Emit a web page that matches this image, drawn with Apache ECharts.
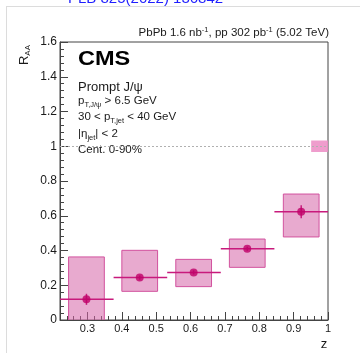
<!DOCTYPE html>
<html>
<head>
<meta charset="utf-8">
<script src="https://cdn.jsdelivr.net/npm/echarts@6/dist/echarts.min.js"></script>
<style>
  html, body { margin: 0; padding: 0; background: #fff; }
  #chart { width: 360px; height: 353px; }
</style>
</head>
<body>
<div id="chart"></div>
<script>
// Nuclear modification factor of prompt J/psi in jets vs. jet fragmentation z
const binEdges = [0.22, 0.376, 0.532, 0.688, 0.844, 1.0];
const zCenter  = [0.297, 0.452, 0.609, 0.765, 0.922];
const rAA      = [0.119, 0.244, 0.274, 0.410, 0.623];
const statErr  = [0.032, 0.012, 0.012, 0.012, 0.038];
const sysLow   = [-0.125, 0.165, 0.192, 0.303, 0.478];
const sysHigh  = [0.363, 0.401, 0.349, 0.466, 0.725];
const globalUnc = 0.033;           // normalisation uncertainty drawn at R_AA = 1
const xTickValues = [0.3, 0.4, 0.5, 0.6, 0.7, 0.8, 0.9, 1.0];

const SYS_HALF_WIDTH = 0.052;
const GLOBAL_BOX_WIDTH = 0.049;
const FONT = '"Liberation Sans", Arial, Helvetica, sans-serif';
const INK = '#1a1a1a';

const xMinorTicks = [];
for (let i = 12; i <= 50; i++) xMinorTicks.push(+(i * 0.02).toFixed(2));

const chart = echarts.init(document.getElementById('chart'), null, { renderer: 'canvas' });

const pointData = zCenter.map((z, i) => [z, rAA[i]]);
const sysData = zCenter.map((z, i) => [z, sysLow[i], sysHigh[i]]);
const errData = zCenter.map((z, i) => [z, rAA[i], statErr[i], binEdges[i], binEdges[i + 1]]);

const sub = { fontSize: 7.5, verticalAlign: 'bottom', lineHeight: 8, fontFamily: FONT, fill: INK };

chart.setOption({
  animation: false,
  backgroundColor: '#fff',
  grid: {
    left: 60, right: 32, top: 42, bottom: 33,
    show: true, borderColor: '#444', borderWidth: 1, backgroundColor: 'transparent'
  },
  xAxis: [
    {
      type: 'value', min: 0.22, max: 1.0,
      axisLine: { show: true, onZero: false, lineStyle: { color: '#444', width: 1 } },
      axisTick: { show: true, inside: true, length: 8, customValues: xTickValues, lineStyle: { color: '#444' } },
      axisLabel: {
        customValues: xTickValues, color: INK, fontSize: 11, fontFamily: FONT, margin: 3,
        formatter: v => String(+v.toFixed(1))
      },
      splitLine: { show: false }
    },
    {
      type: 'value', min: 0.22, max: 1.0, position: 'bottom',
      axisLine: { show: false, onZero: false },
      axisTick: { show: true, inside: true, length: 4, customValues: xMinorTicks, lineStyle: { color: '#444' } },
      axisLabel: { show: false },
      splitLine: { show: false }
    }
  ],
  yAxis: {
    type: 'value', min: 0, max: 1.6, interval: 0.2,
    axisLine: { show: true, onZero: false, lineStyle: { color: '#444', width: 1 } },
    axisTick: { show: true, inside: true, length: 8, lineStyle: { color: '#444' } },
    minorTick: { show: true, splitNumber: 5, length: 4, lineStyle: { color: '#444' } },
    axisLabel: { color: INK, fontSize: 12, fontFamily: FONT, margin: 3 },
    splitLine: { show: false }
  },
  series: [
    {
      // systematic uncertainty boxes
      type: 'custom',
      clip: true,
      z: 2,
      data: sysData,
      renderItem: (params, api) => {
        const x = api.value(0), lo = api.value(1), hi = api.value(2);
        const p1 = api.coord([x - SYS_HALF_WIDTH, hi]);
        const p2 = api.coord([x + SYS_HALF_WIDTH, lo]);
        return {
          type: 'rect',
          shape: { x: p1[0], y: p1[1], width: p2[0] - p1[0], height: p2[1] - p1[1] },
          style: { fill: 'rgba(214, 100, 168, 0.55)', stroke: '#d2529e', lineWidth: 1 }
        };
      },
      markLine: {
        silent: true,
        symbol: 'none',
        label: { show: false },
        lineStyle: { color: '#b0b0b0', type: [2, 2], width: 1 },
        data: [{ yAxis: 1 }]
      }
    },
    {
      // global normalisation uncertainty
      type: 'custom',
      clip: true,
      z: 3,
      data: [[1.0, 1.0, globalUnc]],
      renderItem: (params, api) => {
        const x = api.value(0), y = api.value(1), u = api.value(2);
        const p1 = api.coord([x - GLOBAL_BOX_WIDTH, y + u]);
        const p2 = api.coord([x, y - u]);
        return {
          type: 'rect',
          shape: { x: p1[0], y: p1[1], width: p2[0] - p1[0], height: p2[1] - p1[1] },
          style: { fill: 'rgba(236, 140, 196, 0.85)' }
        };
      }
    },
    {
      // bin-width and statistical error bars
      type: 'custom',
      clip: true,
      z: 4,
      data: errData,
      renderItem: (params, api) => {
        const x = api.value(0), y = api.value(1), e = api.value(2);
        const a = api.coord([api.value(3), y]);
        const b = api.coord([api.value(4), y]);
        const t = api.coord([x, y + e]);
        const d = api.coord([x, y - e]);
        const style = { stroke: '#c81a7c', lineWidth: 1.5 };
        return {
          type: 'group',
          children: [
            { type: 'line', shape: { x1: a[0], y1: a[1], x2: b[0], y2: b[1] }, style },
            { type: 'line', shape: { x1: t[0], y1: t[1], x2: d[0], y2: d[1] }, style }
          ]
        };
      }
    },
    {
      type: 'scatter',
      z: 5,
      symbol: 'circle',
      symbolSize: 8,
      itemStyle: { color: '#bf0068' },
      data: pointData
    }
  ],
  graphic: [
    // outer canvas frame
    { type: 'line', shape: { x1: 6.5, y1: 7, x2: 6.5, y2: 353 }, style: { stroke: '#dcdcdc', lineWidth: 1 } },
    { type: 'line', shape: { x1: 6, y1: 6.5, x2: 360, y2: 6.5 }, style: { stroke: '#dcdcdc', lineWidth: 1 } },
    {
      type: 'text', x: 68, y: 6,
      style: { text: 'PLB 825(2022) 136842', fontSize: 15, fontFamily: FONT, fill: '#1f1fff', verticalAlign: 'bottom' }
    },
    {
      type: 'text', x: 329, y: 33,
      style: {
        text: 'PbPb 1.6 nb{sup|-1}, pp 302 pb{sup|-1} (5.02 TeV)',
        align: 'right', verticalAlign: 'middle',
        fontSize: 11.5, fontFamily: FONT, fill: INK, lineHeight: 14,
        rich: { sup: { fontSize: 7.5, verticalAlign: 'top', lineHeight: 8, fontFamily: FONT, fill: INK } }
      }
    },
    {
      type: 'text', x: 78, y: 59, scaleX: 1.12,
      style: { text: 'CMS', fontSize: 21, fontWeight: 'bold', fontFamily: FONT, fill: '#000', verticalAlign: 'middle' }
    },
    {
      type: 'text', x: 78, y: 87.5,
      style: { text: 'Prompt J/ψ', fontSize: 13, fontFamily: FONT, fill: INK, verticalAlign: 'middle' }
    },
    {
      type: 'text', x: 78, y: 101,
      style: {
        text: 'p{sub|T,J/ψ} > 6.5 GeV', fontSize: 11.5, fontFamily: FONT, fill: INK,
        verticalAlign: 'middle', lineHeight: 15, rich: { sub }
      }
    },
    {
      type: 'text', x: 78, y: 117,
      style: {
        text: '30 < p{sub|T,jet} < 40 GeV', fontSize: 11.5, fontFamily: FONT, fill: INK,
        verticalAlign: 'middle', lineHeight: 15, rich: { sub }
      }
    },
    {
      type: 'text', x: 78, y: 134,
      style: {
        text: '|η{sub|jet}| < 2', fontSize: 11.5, fontFamily: FONT, fill: INK,
        verticalAlign: 'middle', lineHeight: 15, rich: { sub }
      }
    },
    {
      type: 'text', x: 78, y: 150,
      style: { text: 'Cent. 0-90%', fontSize: 11.5, fontFamily: FONT, fill: INK, verticalAlign: 'middle' }
    },
    {
      type: 'text', x: 24, y: 55, rotation: Math.PI / 2,
      style: {
        text: 'R{sub|AA}', fontSize: 13, fontFamily: FONT, fill: INK,
        align: 'center', verticalAlign: 'middle', lineHeight: 16,
        rich: { sub: { fontSize: 8, verticalAlign: 'bottom', lineHeight: 9, fontFamily: FONT, fill: INK } }
      }
    },
    {
      type: 'text', x: 324, y: 344,
      style: { text: 'z', fontSize: 13, fontFamily: FONT, fill: INK, align: 'center', verticalAlign: 'middle' }
    }
  ]
});
</script>
</body>
</html>
